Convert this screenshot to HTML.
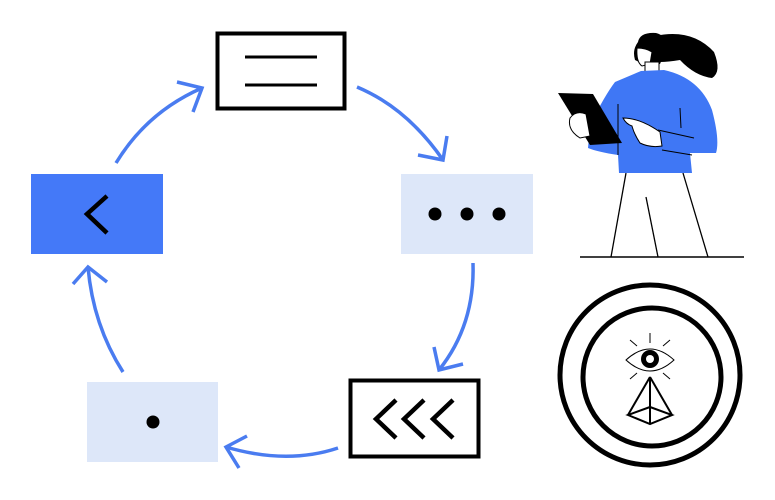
<!DOCTYPE html>
<html><head><meta charset="utf-8"><style>html,body{margin:0;padding:0;background:#fff}svg{display:block}</style></head>
<body>
<svg width="775" height="500" viewBox="0 0 775 500" xmlns="http://www.w3.org/2000/svg">
<rect x="217.5" y="33.5" width="127" height="75" fill="#fff" stroke="#000" stroke-width="4"/>
<line x1="245" y1="57" x2="317" y2="57" stroke="#000" stroke-width="3"/>
<line x1="245" y1="85" x2="317" y2="85" stroke="#000" stroke-width="3"/>
<rect x="31" y="174" width="132" height="80" fill="#4479f8"/>
<polyline points="107,196 87,214 107,233" fill="none" stroke="#000" stroke-width="4.5"/>
<rect x="401" y="174" width="132" height="80" fill="#dde7f9"/>
<circle cx="435" cy="214" r="6.5" fill="#000"/><circle cx="467" cy="214" r="6.5" fill="#000"/><circle cx="499" cy="214" r="6.5" fill="#000"/>
<rect x="350.5" y="380.5" width="128" height="76" fill="#fff" stroke="#000" stroke-width="4"/>
<g fill="none" stroke="#000" stroke-width="4.5">
<polyline points="396,400 376,419 396,438"/><polyline points="424,400 404,419 424,438"/><polyline points="453,400 433,419 453,438"/>
</g>
<rect x="87" y="382" width="131" height="80" fill="#dde7f9"/>
<circle cx="153" cy="422" r="6.5" fill="#000"/>
<g fill="none" stroke="#4a7cf0" stroke-width="3.5">
<path d="M116,163 Q147,112 202,88"/><polyline points="177,82 202,88 193,112"/>
<path d="M357,87 Q407,108 443,160"/><polyline points="418,155 443,160 447,136"/>
<path d="M473,263 Q475,325 439,370"/><polyline points="434,347 439,370 463,364"/>
<path d="M338,448 Q287,465 226,447"/><polyline points="247,436 226,447 239,468"/>
<path d="M123,372 Q93,325 88,267"/><polyline points="73,284 88,267 107,282"/>
</g>
<line x1="580" y1="257" x2="744" y2="257" stroke="#000" stroke-width="1.5"/>
<g fill="none" stroke="#000" stroke-width="1.3">
<line x1="626" y1="173" x2="611" y2="257"/><line x1="646" y1="197" x2="658" y2="257"/><line x1="683" y1="173" x2="708" y2="257"/>
</g>
<path d="M655,36 Q692,28 714,52 Q722,72 712,78 Q695,76 680,60 Q668,62 660,62 Z" fill="#000"/>
<path d="M638,42 Q640,32 656,33 Q668,36 666,50 L660,64 Q645,66 635,60 Q632,50 638,42 Z" fill="#000"/>
<path d="M637,48 Q636,62 642,66 L650,64 L652,52 Q646,48 637,48 Z" fill="#fff" stroke="#000" stroke-width="1"/>
<rect x="645" y="62" width="14" height="12" fill="#fff" stroke="#000" stroke-width="1"/>
<path d="M641,71 L664,70 Q700,78 712,110 Q720,140 716,153 L690,153 L692,173 L619,173 L618,155 Q598,152 588,148 L590,125 Q605,95 615,82 Z" fill="#3f77f5"/>
<path d="M618,104 L618,155 M680,108 L681,128 M658,130 L694,138 M662,150 L692,155" fill="none" stroke="#000" stroke-width="1"/>
<polygon points="558,93 593,94 622,143 590,145" fill="#000"/>
<path d="M570,118 Q567,130 580,138 L590,136 L586,114 Q576,110 570,118 Z" fill="#fff" stroke="#000" stroke-width="1"/>
<path d="M623,118 Q640,118 660,132 L662,146 Q650,148 640,143 Q634,134 632,126 Q626,124 623,118 Z" fill="#fff" stroke="#000" stroke-width="1"/>
<circle cx="650" cy="375" r="90" fill="none" stroke="#000" stroke-width="5"/>
<circle cx="652" cy="377" r="69" fill="none" stroke="#000" stroke-width="5"/>
<path d="M626,360 Q650,338 674,360 Q650,382 626,360 Z" fill="none" stroke="#000" stroke-width="1"/>
<circle cx="650" cy="359" r="9" fill="#000"/><circle cx="650" cy="359" r="4" fill="#fff"/>
<g stroke="#000" stroke-width="1">
<line x1="650" y1="333" x2="650" y2="343"/><line x1="630" y1="340" x2="637" y2="346"/><line x1="670" y1="340" x2="663" y2="346"/>
<line x1="630" y1="379" x2="637" y2="373"/><line x1="670" y1="379" x2="663" y2="373"/>
</g>
<g fill="none" stroke="#000" stroke-width="2">
<polygon points="628,415 650,424 672,415 650,407"/>
<line x1="650" y1="377" x2="628" y2="415"/><line x1="650" y1="377" x2="672" y2="415"/><line x1="650" y1="377" x2="650" y2="424"/>
</g>
</svg>
</body></html>
